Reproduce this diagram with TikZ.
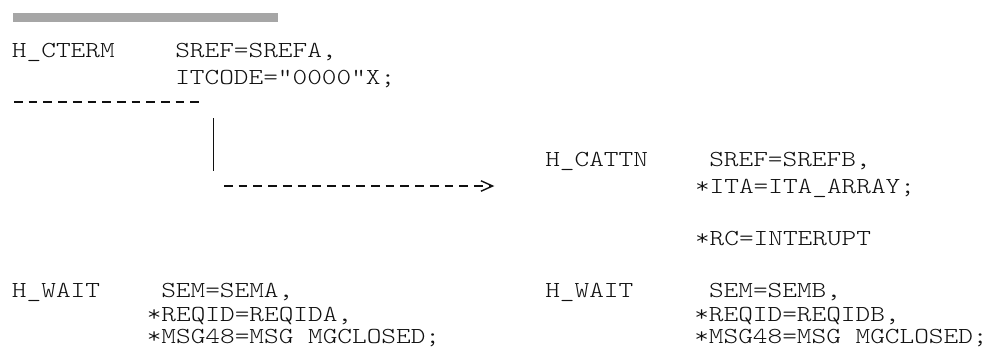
\documentclass[tikz,border=0pt]{standalone}
\usepackage{graphicx}
\usetikzlibrary{arrows.meta}
\definecolor{barGray}{RGB}{166,166,166}
\definecolor{inkColor}{RGB}{16,16,16}
% typewriter text, stretched to a 0.6em character pitch
\newcommand{\mono}[1]{\scalebox{1.22}[1]{\fontsize{22.9}{27}\fontseries{l}\ttfamily #1}}
\begin{document}
\begin{tikzpicture}[x=1pt,y=-1pt,
  code/.style={anchor=base west,inner sep=0pt,outer sep=0pt,text=inkColor},
  dashrule/.style={line width=1.4pt,dash pattern=on 8.7pt off 6pt,draw=inkColor},
  solidrule/.style={line width=1.4pt,draw=inkColor}]
\useasboundingbox (0,0) rectangle (996,356);

% header bar
\fill[barGray] (13.3,13.3) rectangle (278.3,21.7);

% first call: H_CTERM
\node[code] (cterm)  at (12,57.3)  {\mono{H\_CTERM}};
\node[code] (sref)   at (175.3,57.3) {\mono{SREF=SREFA,}};
\node[code] (itcode) at (175.3,84.8) {\mono{ITCODE="0000"X;}};

% separator under the first call
\coordinate (sepL) at (14,102);
\coordinate (sepR) at (198.5,102);
\draw[dashrule] (sepL) -- (sepR);

% drop line and arrow to H_CATTN
\coordinate (dropT) at (213.3,118);
\coordinate (dropB) at (213.3,171);
\draw[solidrule] (dropT) -- (dropB);

% H_CATTN call
\node[code] (cattn) at (545.3,166)   {\mono{H\_CATTN}};
\node[code] (srefb) at (709.3,166)   {\mono{SREF=SREFB,}};
\node[code] (ita)   at (695.0,193.3) {\mono{*ITA=ITA\_ARRAY;}};
\node[code] (rc)    at (695.0,245)   {\mono{*RC=INTERUPT}};

\coordinate (arrS) at (224,186);
\coordinate (arrE) at ([xshift=-45pt]cattn.west |- 0,186);
\draw[dashrule,-{Straight Barb[length=11.7pt,width=10.5pt,sep=6pt]}] (arrS) -- (arrE);

% waits
\node[code] (waita)  at (12,297.5)    {\mono{H\_WAIT}};
\node[code] (sema)   at (161.3,297.5) {\mono{SEM=SEMA,}};
\node[code] (reqa)   at (146.8,321.5) {\mono{*REQID=REQIDA,}};
\node[code] (msga)   at (146.8,343)   {\mono{*MSG48=MSG MGCLOSED;}};

\node[code] (waitb)  at (545.3,297.5) {\mono{H\_WAIT}};
\node[code] (semb)   at (709.0,297.5) {\mono{SEM=SEMB,}};
\node[code] (reqb)   at (694.3,321.5) {\mono{*REQID=REQIDB,}};
\node[code] (msgb)   at (694.3,343)   {\mono{*MSG48=MSG MGCLOSED;}};
\end{tikzpicture}
\end{document}
